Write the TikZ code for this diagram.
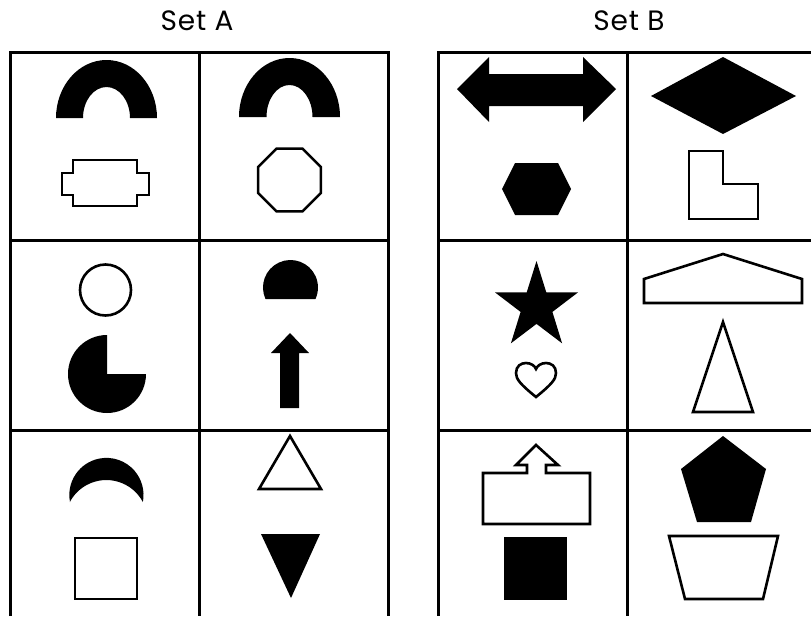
\documentclass[tikz,border=0pt]{standalone}
\usepackage{fontspec}
\setmainfont{Poppins}
\usepackage{xcolor}
\usepackage{tikz}
\usetikzlibrary{positioning}

\begin{document}
\begin{tikzpicture}[
    x=1pt, y=-1pt,
    gridline/.style={draw=black, line width=3pt},
    solidshape/.style={fill=black},
    outlineshape/.style={draw=black, fill=white, line width=2.6pt, line join=miter},
    settitle/.style={font=\fontsize{28}{32}\selectfont\addfontfeature{LetterSpace=3}, inner sep=0pt}
  ]
  \useasboundingbox (0,0) rectangle (811,616);

  % Titles
  \node[settitle] (titleA) at (197,21) {Set A};
  \node[settitle] (titleB) at (629,21) {Set B};

  % Grid of Set A
  \draw[gridline] (10,616) -- (10,52) -- (388,52) -- (388,616);
  \draw[gridline] (199,52) -- (199,616);
  \draw[gridline] (10,240) -- (388,240);
  \draw[gridline] (10,430) -- (388,430);

  % Grid of Set B
  \draw[gridline] (811,52) -- (438,52) -- (438,616);
  \draw[gridline] (627,52) -- (627,616);
  \draw[gridline] (438,240) -- (811,240);
  \draw[gridline] (438,430) -- (811,430);

  % Set A, row 1
  \fill[solidshape] (56,118) arc[start angle=180, end angle=360, x radius=50.5, y radius=58]
    -- (130,118) arc[start angle=0, end angle=-180, x radius=23.5, y radius=31] -- cycle;
  \draw[outlineshape] (73,160) -- (137,160) -- (137,173) -- (149,173) -- (149,195) -- (137,195)
    -- (137,206) -- (73,206) -- (73,195) -- (62,195) -- (62,173) -- (73,173) -- cycle;
  \fill[solidshape] (239,117) arc[start angle=180, end angle=360, x radius=50.5, y radius=59]
    -- (312.5,117) arc[start angle=0, end angle=-180, x radius=23, y radius=32] -- cycle;
  \draw[outlineshape] (320.9,167) -- (320.9,193) -- (302.5,211.4) -- (276.5,211.4) -- (258.1,193)
    -- (258.1,167) -- (276.5,148.6) -- (302.5,148.6) -- cycle;

  % Set A, row 2
  \draw[outlineshape] (105.5,290) circle[radius=25.5];
  \fill[solidshape] (107,374) -- (146,374) arc[start angle=0, end angle=270, radius=39] -- cycle;
  \fill[solidshape] (265.5,299) arc[start angle=155.3, end angle=384.7, radius=27.5] -- cycle;
  \fill[solidshape] (280,408) -- (280,353) -- (271,353) -- (290,333) -- (309,353) -- (299,353)
    -- (299,408) -- cycle;

  % Set A, row 3
  \fill[solidshape] (70,502) arc[start angle=169.1, end angle=370.9, radius=37.1]
    arc[start angle=-27.9, end angle=-152.1, radius=41.3] -- cycle;
  \draw[outlineshape] (75,538) rectangle (137,599);
  \draw[outlineshape] (290,436) -- (321,489) -- (259,489) -- cycle;
  \fill[solidshape] (261,534) -- (320,534) -- (291,598) -- cycle;

  % Set B, row 1
  \fill[solidshape] (457,89) -- (489,57) -- (489,74) -- (583,74) -- (583,57) -- (616,89)
    -- (583,122) -- (583,106) -- (489,106) -- (489,122) -- cycle;
  \fill[solidshape] (502,189) -- (515,163) -- (558,163) -- (571,189) -- (558,215) -- (515,215) -- cycle;
  \fill[solidshape] (651,96) -- (723,57) -- (796,96) -- (723,134) -- cycle;
  \draw[outlineshape] (689,151) -- (723,151) -- (723,184) -- (758,184) -- (758,219) -- (689,219) -- cycle;

  % Set B, row 2
  \fill[solidshape] (536.5,261) -- (546.3,292.4) -- (578,292.4) -- (552.4,311.9) -- (562.1,343.3)
    -- (536.5,323.9) -- (510.9,343.3) -- (520.6,311.9) -- (495,292.4) -- (526.7,292.4) -- cycle;
  \draw[outlineshape] (536,397) .. controls (520,384) and (516,379) .. (516,373)
    .. controls (516,366) and (521,363) .. (526,363) .. controls (531,363) and (535,366) .. (536,369)
    .. controls (537,366) and (541,363) .. (546,363) .. controls (551,363) and (556,366) .. (556,373)
    .. controls (556,379) and (552,384) .. (536,397) -- cycle;
  \draw[outlineshape] (644,303) -- (644,279) -- (723,254) -- (802,279) -- (802,303) -- cycle;
  \draw[outlineshape] (723,322) -- (753,412) -- (693,412) -- cycle;

  % Set B, row 3
  \draw[outlineshape] (483,473) -- (527,473) -- (527,465) -- (516,465) -- (536,445) -- (558,465)
    -- (546,465) -- (546,473) -- (590,473) -- (590,524) -- (483,524) -- cycle;
  \fill[solidshape] (504,537) rectangle (567,600);
  \fill[solidshape] (723,436) -- (766,469) -- (751,522) -- (697,522) -- (681,469) -- cycle;
  \draw[outlineshape] (669,536) -- (778,536) -- (763,599) -- (685,599) -- cycle;
\end{tikzpicture}
\end{document}
